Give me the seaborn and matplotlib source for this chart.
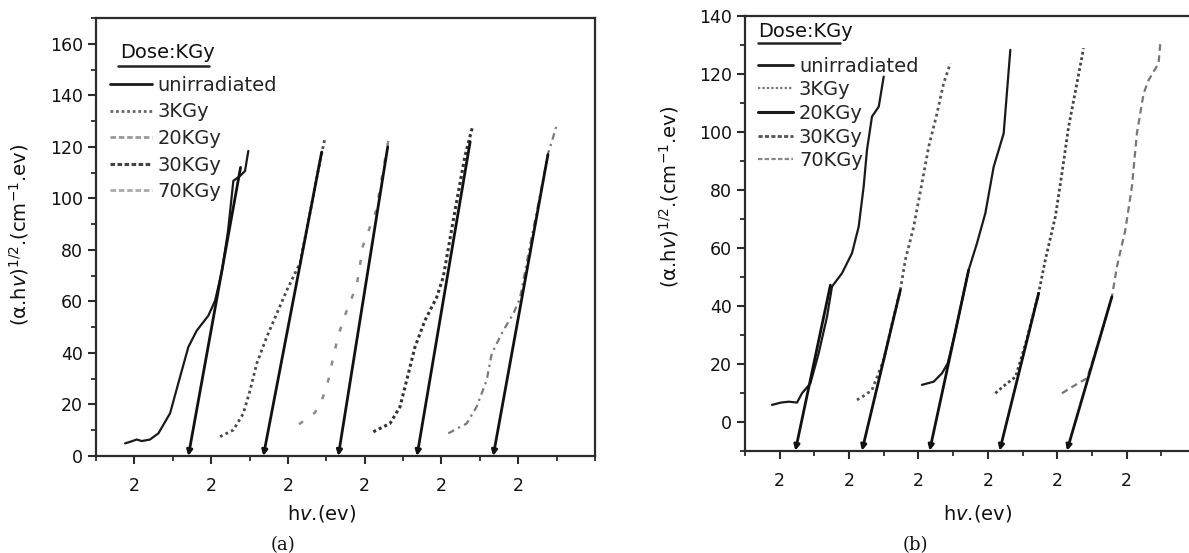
import numpy as np
import pandas as pd
import matplotlib
matplotlib.use("Agg")
import matplotlib.pyplot as plt
import seaborn as sns
from matplotlib.lines import Line2D
from matplotlib.ticker import FixedLocator, FixedFormatter, MultipleLocator

# ---------------- data ----------------
doses = ["unirradiated", "3KGy", "20KGy", "30KGy", "70KGy"]
tick_pos = [0, 1, 2, 3, 4, 5]
tick_labels = ["2", "2", "2", "2", "2", "2"]

# panel (a)
a_unirr_x = [-0.121, -0.056, 0.031, 0.096, 0.204, 0.313, 0.465, 0.595, 0.703, 0.813, 0.964, 1.051, 1.142, 1.22, 1.289, 1.376, 1.441, 1.484]
a_unirr_y = [4.9, 5.5, 6.4, 5.8, 6.4, 8.8, 16.6, 30.7, 42.3, 48.7, 54.5, 60.3, 72.0, 87.4, 106.8, 108.7, 110.6, 118.4]
a_3_x = [1.116, 1.289, 1.419, 1.507, 1.594, 1.724, 1.854, 1.984, 2.158, 2.288, 2.418, 2.483]
a_3_y = [7.5, 10.1, 16.5, 25.5, 35.9, 46.2, 55.2, 64.2, 75.0, 94.4, 114.5, 123.4]
a_20_x = [2.145, 2.353, 2.44, 2.526, 2.591, 2.656, 2.766, 2.896, 2.978, 3.148, 3.238, 3.329]
a_20_y = [12.3, 16.9, 21.4, 29.4, 38.4, 46.8, 56.5, 66.2, 81.6, 95.2, 110.6, 126.1]
a_30_x = [3.112, 3.329, 3.46, 3.547, 3.655, 3.785, 3.938, 4.023, 4.176, 4.306, 4.406]
a_30_y = [9.4, 12.6, 19.1, 29.4, 42.3, 52.6, 61.6, 69.4, 95.2, 116.4, 128.0]
a_70_x = [4.089, 4.328, 4.458, 4.589, 4.654, 4.805, 4.935, 5.022, 5.152, 5.283, 5.391, 5.44, 5.508]
a_70_y = [8.8, 12.6, 19.1, 29.4, 39.7, 48.7, 55.2, 61.1, 81.6, 101.0, 117.7, 122.2, 129.3]
a_fit_x0 = [0.703, 1.680, 2.656, 3.681, 4.674]
a_fit_x1 = [1.383, 2.44, 3.30, 4.374, 5.387]
a_fit_y0 = [0, 0, 0, 0, 0]
a_fit_y1 = [112, 118, 120, 122, 117]

# panel (b)
b_unirr_x = [-0.111, 0.02, 0.13, 0.25, 0.321, 0.442, 0.562, 0.682, 0.754, 0.898, 1.042, 1.138, 1.21, 1.258, 1.33, 1.427, 1.451, 1.499]
b_unirr_y = [5.8, 6.6, 6.9, 6.6, 9.8, 13.2, 23.6, 36.2, 46.6, 51.2, 58.1, 67.2, 81.0, 93.7, 105.2, 108.6, 112.0, 119.0]
b_3_x = [1.114, 1.21, 1.33, 1.499, 1.614, 1.739, 1.811, 1.931, 2.05, 2.147, 2.267, 2.363, 2.46]
b_3_y = [7.5, 8.9, 10.9, 21.3, 33.3, 45.4, 55.8, 67.2, 82.2, 94.8, 106.3, 116.7, 123.6]
b_20_x = [2.05, 2.219, 2.339, 2.421, 2.521, 2.614, 2.723, 2.843, 2.964, 3.084, 3.228, 3.278, 3.324]
b_20_y = [12.7, 13.8, 16.7, 20.1, 29.9, 40.2, 52.3, 61.5, 71.9, 87.9, 99.4, 114.4, 128.2]
b_30_x = [3.108, 3.228, 3.40, 3.56, 3.732, 3.828, 3.973, 4.068, 4.164, 4.284, 4.38]
b_30_y = [9.8, 12.3, 15.5, 28.2, 44.3, 55.8, 70.7, 85.7, 101.7, 116.7, 128.8]
b_70_x = [4.068, 4.236, 4.43, 4.606, 4.788, 4.86, 4.981, 5.076, 5.148, 5.245, 5.317, 5.461, 5.485]
b_70_y = [9.8, 12.3, 15.0, 28.2, 43.1, 53.4, 66.1, 81.0, 99.4, 113.2, 117.8, 123.6, 130.5]
b_fit_x0 = [0.226, 1.186, 2.161, 3.17, 4.14]
b_fit_x1 = [0.731, 1.739, 2.723, 3.732, 4.788]
b_fit_y0 = [-10, -10, -10, -10, -10]
b_fit_y1 = [47.1, 45.4, 52.3, 44.3, 43.1]

# ---------------- style ----------------
sns.set_style("white")
plt.rcParams["font.family"] = ["DejaVu Sans"]
plt.rcParams["mathtext.fontset"] = "dejavusans"
SPINE = "#2b2b2b"

fig = plt.figure(figsize=(11.89, 5.53), dpi=100)
axA = fig.add_axes([96 / 1189, (553 - 456) / 553, 499 / 1189, 438 / 553])
axB = fig.add_axes([745 / 1189, (553 - 450.7) / 553, 451 / 1189, 435 / 553])

a_styles = [
    dict(color="#1a1a1a", lw=1.6, ls="-"),
    dict(color="#4a4a4a", lw=2.0, ls=(0, (1, 1.2))),
    dict(color="#8a8a8a", lw=1.8, ls=(0, (2, 5))),
    dict(color="#333333", lw=2.2, ls=(0, (1, 1))),
    dict(color="#7a7a7a", lw=1.6, ls=(0, (3, 2, 1, 2))),
]
a_leg = [
    dict(color="#1a1a1a", lw=2.0, ls="-"),
    dict(color="#666666", lw=2.0, ls=(0, (1, 1))),
    dict(color="#999999", lw=2.0, ls=(0, (2, 1))),
    dict(color="#444444", lw=2.2, ls=(0, (1.5, 0.8))),
    dict(color="#aaaaaa", lw=2.0, ls=(0, (2, 1))),
]
b_styles = [
    dict(color="#1a1a1a", lw=1.6, ls="-"),
    dict(color="#555555", lw=2.0, ls=(0, (1, 1.2))),
    dict(color="#1a1a1a", lw=1.6, ls="-"),
    dict(color="#444444", lw=2.0, ls=(0, (1, 1))),
    dict(color="#777777", lw=1.6, ls=(0, (3, 2))),
]
b_leg = [
    dict(color="#1a1a1a", lw=2.0, ls="-"),
    dict(color="#777777", lw=1.6, ls=(0, (1, 1))),
    dict(color="#1a1a1a", lw=2.2, ls="-"),
    dict(color="#555555", lw=2.0, ls=(0, (1.5, 0.8))),
    dict(color="#888888", lw=1.6, ls=(0, (2, 1))),
]

panels = [
    dict(ax=axA,
         xs=[a_unirr_x, a_3_x, a_20_x, a_30_x, a_70_x],
         ys=[a_unirr_y, a_3_y, a_20_y, a_30_y, a_70_y],
         fx0=a_fit_x0, fx1=a_fit_x1, fy0=a_fit_y0, fy1=a_fit_y1,
         styles=a_styles, leg=a_leg, ylim=(0, 170), yticks=np.arange(0, 161, 20),
         xlim=(-0.5, 6.0),
         title_pos=(0.048, 0.922), uline=((0.044, 0.226), 0.890),
         leg_anchor=(0.028, 0.868), handlelen=2.16, labelspacing=0.39,
         ylab_pos=(-0.130, 0.505), xlab_pos=(0.452, -0.107)),
    dict(ax=axB,
         xs=[b_unirr_x, b_3_x, b_20_x, b_30_x, b_70_x],
         ys=[b_unirr_y, b_3_y, b_20_y, b_30_y, b_70_y],
         fx0=b_fit_x0, fx1=b_fit_x1, fy0=b_fit_y0, fy1=b_fit_y1,
         styles=b_styles, leg=b_leg, ylim=(-10, 140), yticks=np.arange(0, 141, 20),
         xlim=(-0.5, 6.0),
         title_pos=(0.029, 0.963), uline=((0.029, 0.211), 0.937),
         leg_anchor=(0.029, 0.906), handlelen=1.8, labelspacing=0.24,
         ylab_pos=(-0.142, 0.583), xlab_pos=(0.515, -0.120)),
]

for p in panels:
    ax = p["ax"]
    for name, xv, yv, st in zip(doses, p["xs"], p["ys"], p["styles"]):
        df = pd.DataFrame({"hv": xv, "val": yv})
        sns.lineplot(data=df, x="hv", y="val", ax=ax, sort=False, estimator=None,
                     color=st["color"], linewidth=st["lw"], linestyle=st["ls"])
    for x0, x1, y0, y1 in zip(p["fx0"], p["fx1"], p["fy0"], p["fy1"]):
        ax.annotate("", xy=(x0, y0), xytext=(x1, y1),
                    arrowprops=dict(arrowstyle="-|>", lw=2.0, color="#111111",
                                    mutation_scale=8, shrinkA=0, shrinkB=0))
    ax.set_xlim(*p["xlim"])
    ax.set_ylim(*p["ylim"])
    ax.xaxis.set_major_locator(FixedLocator(tick_pos))
    ax.xaxis.set_major_formatter(FixedFormatter(tick_labels))
    ax.xaxis.set_minor_locator(MultipleLocator(0.5))
    ax.yaxis.set_major_locator(FixedLocator(p["yticks"]))
    ax.yaxis.set_minor_locator(MultipleLocator(10))
    ax.tick_params(axis="both", which="major", direction="out", length=6, width=1.5,
                   color=SPINE, labelsize=12.5, labelcolor="#111111")
    ax.tick_params(axis="both", which="minor", direction="out", length=3.5, width=1.3, color=SPINE)
    ax.tick_params(axis="x", which="major", pad=9)
    ax.tick_params(axis="y", which="major", pad=3.5)
    ax.tick_params(bottom=True, left=True, which="both")
    for s in ax.spines.values():
        s.set_color(SPINE)
        s.set_linewidth(1.6)
        s.set_visible(True)
    ax.set_ylabel("(α.h$\\mathit{v}$)$^{1/2}$.(cm$^{-1}$.ev)", fontsize=14, color="#111111")
    ax.set_xlabel("h$\\mathit{v}$.(ev)", fontsize=14, color="#111111")
    ax.yaxis.set_label_coords(*p["ylab_pos"])
    ax.xaxis.set_label_coords(*p["xlab_pos"])
    ax.set_facecolor("white")
    # legend
    ax.text(p["title_pos"][0], p["title_pos"][1], "Dose:KGy", transform=ax.transAxes,
            fontsize=14, va="center", ha="left", color="#111111")
    ax.add_line(Line2D(list(p["uline"][0]), [p["uline"][1]] * 2, transform=ax.transAxes,
                       color="#222222", lw=1.8))
    handles = [Line2D([0], [0], color=st["color"], lw=st["lw"], ls=st["ls"]) for st in p["leg"]]
    ax.legend(handles, doses, loc="upper left", bbox_to_anchor=p["leg_anchor"],
              frameon=False, fontsize=14, borderaxespad=0, borderpad=0,
              handlelength=p["handlelen"], handletextpad=0.3,
              labelspacing=p["labelspacing"])

fig.text(283 / 1189, (553 - 545) / 553, "(a)", family="DejaVu Serif", fontsize=13,
         ha="center", va="center", color="#111111")
fig.text(915 / 1189, (553 - 545) / 553, "(b)", family="DejaVu Serif", fontsize=13,
         ha="center", va="center", color="#111111")

fig.savefig("out.png", dpi=100, facecolor="white")
